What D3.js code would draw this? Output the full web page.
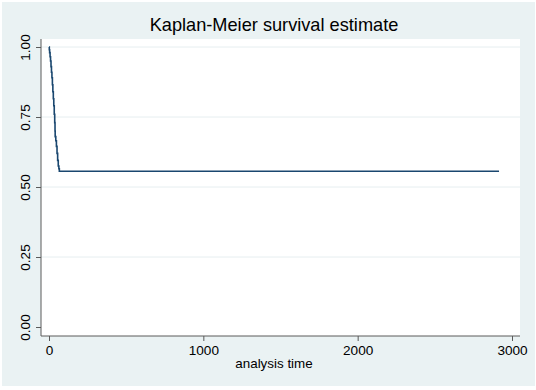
<!DOCTYPE html>
<html>
<head>
<meta charset="utf-8">
<script src="https://cdn.jsdelivr.net/npm/d3@7"></script>
<style>
  body { margin: 0; background: #fff; }
  text { font-family: "Liberation Sans", Arial, sans-serif; fill: #000; }
</style>
</head>
<body>
<div id="chart"></div>
<script>
// Kaplan-Meier step estimates (time, survival)
const times = [0, 2, 4, 7, 10, 13, 16, 19, 22, 25, 28, 31, 34, 37, 39, 40, 44, 48, 52, 56, 60, 64, 67, 2916];
const survival = [1, 0.99, 0.98, 0.965, 0.95, 0.93, 0.91, 0.89, 0.865, 0.84, 0.815, 0.79, 0.76, 0.73, 0.70, 0.68, 0.665, 0.645, 0.62, 0.595, 0.575, 0.565, 0.556, 0.556];
const xTicks = [0, 1000, 2000, 3000];
const yTicks = [0, 0.25, 0.5, 0.75, 1];

const width = 536, height = 390;

const x = d3.scaleLinear().domain([0, 3000]).range([49, 512]);
const y = d3.scaleLinear().domain([0, 1]).range([327, 47]);

const svg = d3.select("#chart").append("svg")
    .attr("width", width)
    .attr("height", height);

// outer graph region
svg.append("rect")
    .attr("x", 2).attr("y", 2)
    .attr("width", 533).attr("height", 384)
    .attr("fill", "#eaf2f3");

// plot region
svg.append("rect")
    .attr("x", 41).attr("y", 39)
    .attr("width", 479).attr("height", 297)
    .attr("fill", "#ffffff");

// grid lines
svg.selectAll(".grid")
    .data(yTicks.filter(d => d > 0))
    .enter().append("line")
    .attr("class", "grid")
    .attr("x1", 41).attr("x2", 520)
    .attr("y1", d => y(d)).attr("y2", d => y(d))
    .attr("stroke", "#e6eef0")
    .attr("stroke-width", 1);

const yAxis = d3.axisLeft(y)
    .tickValues(yTicks)
    .tickFormat(d3.format(".2f"))
    .tickSize(5)
    .tickPadding(4);

const gy = svg.append("g")
    .attr("transform", "translate(41,0)")
    .call(yAxis);
gy.select(".domain").remove();
gy.append("line")
    .attr("x1", 0).attr("x2", 0)
    .attr("y1", 39).attr("y2", 336)
    .attr("stroke", "#5a5a5a");
gy.selectAll(".tick line").attr("stroke", "#5a5a5a");
gy.selectAll(".tick text")
    .attr("x", 0).attr("y", 0).attr("dy", null)
    .attr("text-anchor", "middle")
    .attr("transform", "translate(-11,0) rotate(-90)")
    .style("font-size", "13.6px")
    .style("fill", "#000");

const xAxis = d3.axisBottom(x)
    .tickValues(xTicks)
    .tickFormat(d3.format("d"))
    .tickSize(5)
    .tickPadding(4);

const gx = svg.append("g")
    .attr("transform", "translate(0,336)")
    .call(xAxis);
gx.select(".domain").remove();
gx.append("line")
    .attr("x1", 41).attr("x2", 520)
    .attr("y1", 0).attr("y2", 0)
    .attr("stroke", "#5a5a5a");
gx.selectAll(".tick line").attr("stroke", "#5a5a5a");
gx.selectAll(".tick text")
    .style("font-size", "13.6px")
    .style("fill", "#000");

// survival curve
const pts = times.map((t, i) => [t, survival[i]]);
const line = d3.line()
    .x(d => x(d[0]))
    .y(d => y(d[1]))
    .curve(d3.curveStepAfter);

svg.append("path")
    .datum(pts)
    .attr("d", line)
    .attr("fill", "none")
    .attr("stroke", "#1a476f")
    .attr("stroke-width", 1.6);

// titles
svg.append("text")
    .attr("x", 274).attr("y", 31)
    .attr("text-anchor", "middle")
    .style("font-size", "18.2px")
    .text("Kaplan-Meier survival estimate");

svg.append("text")
    .attr("x", 274).attr("y", 368)
    .attr("text-anchor", "middle")
    .style("font-size", "13.4px")
    .text("analysis time");
</script>
</body>
</html>
